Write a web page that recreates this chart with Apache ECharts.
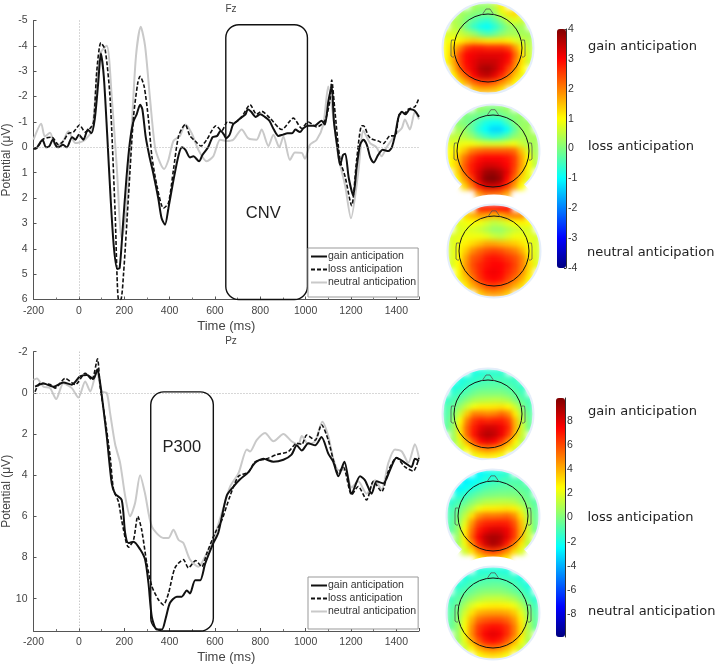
<!DOCTYPE html>
<html><head><meta charset="utf-8">
<script src="https://cdn.jsdelivr.net/npm/echarts@6/dist/echarts.min.js"></script>
<style>
html,body{margin:0;padding:0;background:#fff;overflow:hidden}
#heat,#main{position:absolute;left:0;top:0;width:718px;height:664px}
#heat{filter:blur(2.6px)}
</style></head><body>
<div id="heat"></div><div id="main"></div>
<script>
const conditionNames = ['gain anticipation','loss anticipation','neutral anticipation'];

const fzGain = [[-200,.05],[-190,.05],[-170,-.2],[-160,-.3],[-145,0],[-130,-.05],[-115,-.3],[-100,-.05],[-90,0],[-70,-.1],[-53,0],[-30,-.4],[-15,-.3],[0,-.5],[20,-.3],[40,-.7],[55,-.55],[70,-1.1],[85,-2.5],[97,-3.7],[110,-2.8],[125,-.5],[140,2],[155,4],[170,4.8],[180,4.75],[195,3],[210,1.2],[225,-.2],[240,-1],[255,-1.3],[270,-1.68],[280,-1.5],[295,-.4],[310,.3],[330,1.1],[350,2],[365,2.8],[380,3.05],[395,2.4],[415,1.4],[440,.3],[455,0],[470,.1],[490,.4],[505,.35],[530,.55],[545,.3],[570,0],[590,-.4],[610,-.45],[625,-.65],[640,-.5],[650,-.35],[665,-.5],[680,-.9],[700,-1.05],[720,-1.2],[735,-1.3],[745,-1.5],[760,-1.4],[780,-1.2],[800,-1.3],[820,-1.2],[840,-1.05],[860,-.7],[880,-.45],[900,-.5],[920,-.55],[940,-.55],[955,-.7],[975,-.6],[990,-.75],[1010,-.85],[1040,-.85],[1070,-1.05],[1085,-.9],[1100,-1.8],[1115,-2.4],[1125,-1],[1140,0],[1152,.7],[1165,.3],[1175,.25],[1190,1.2],[1210,1.9],[1225,.8],[1240,-.1],[1255,-.3],[1270,-.1],[1285,.4],[1300,.6],[1320,.3],[1340,.1],[1365,.15],[1380,0],[1395,-.5],[1410,-1.2],[1425,-1.4],[1440,-1.3],[1460,-1.5],[1480,-1.45],[1500,-1.2]];
const fzLoss = [[-200,.05],[-190,.05],[-156,-.33],[-119,-.4],[-90,-.1],[-68,-.25],[-46,-.55],[-24,-.6],[3,-.88],[28,-.6],[50,-.75],[65,-1],[79,-3],[97,-4.12],[116,-3.85],[138,-1.9],[160,2.6],[175,6],[185,6],[197,5],[219,1.9],[241,-1.2],[260,-2.55],[270,-2.8],[288,-2.4],[307,-1.1],[322,.35],[344,1.5],[373,2.4],[395,2.2],[417,.9],[440,-.45],[469,-.9],[490,-.45],[513,-.25],[539,-.05],[564,-.3],[605,-.85],[630,-.65],[655,-1],[681,-.95],[718,-1.2],[755,-1.68],[784,-1.3],[806,-1.42],[843,-1.15],[895,-.7],[946,-1.15],[983,-.75],[1012,-1],[1049,-.8],[1085,-1.05],[1108,-1.9],[1115,-2.65],[1130,-1.35],[1152,.5],[1174,1.15],[1203,2.3],[1225,.5],[1247,-.85],[1255,-.85],[1277,-.45],[1291,-.33],[1321,-.25],[1343,-.15],[1372,-.45],[1394,-.45],[1413,-1.3],[1438,-1.35],[1453,-1.5],[1482,-1.6],[1500,-1.95]];
const fzNeutral = [[-200,-.3],[-166,-.93],[-150,-.43],[-127,-.57],[-105,-.1],[-75,-.15],[-46,-.63],[-16,-.17],[20,-.25],[57,-.65],[72,-1.9],[94,-3.7],[123,-4],[145,-2],[167,.75],[189,3.6],[208,2.6],[233,-.8],[252,-3.6],[273,-4.75],[292,-4],[314,-1.9],[336,0],[358,.6],[376,.85],[395,.5],[417,-.25],[446,-.45],[469,-.9],[498,-.55],[527,.1],[564,.55],[593,.35],[623,-.3],[652,-.25],[681,-.3],[718,-.7],[748,-.35],[784,-.3],[806,-.7],[836,-.05],[858,-.5],[884,0],[902,-.43],[931,.5],[953,.2],[983,.22],[997,.45],[1019,-.1],[1049,-.3],[1078,-.9],[1100,-2.4],[1122,-1.2],[1144,.35],[1174,1.5],[1200,2.8],[1232,1],[1255,-.65],[1284,-.17],[1313,0],[1335,.35],[1357,0],[1401,-.55],[1424,-.75],[1438,-1.1],[1460,-.7],[1482,-1.4],[1500,-1.1]];

const pzGain = [[-193,-.3],[-156,-.45],[-112,-.3],[-68,-.5],[-31,-.4],[5,-.8],[35,-.87],[64,-.68],[82,-1.15],[94,-.47],[109,.83],[123,2.1],[145,4.4],[160,4.9],[189,5.2],[204,6.8],[219,7.3],[241,7.23],[270,7.6],[292,8.1],[307,9.25],[322,10.9],[344,11.5],[366,11.5],[383,10.95],[402,10.2],[432,9.9],[454,9.9],[476,9.6],[490,9.75],[513,9.1],[535,9.1],[557,8.3],[593,7.3],[615,6.8],[652,5],[682,4.55],[711,4.2],[748,3.85],[777,3.4],[814,3.2],[858,3.35],[902,3.25],[938,3],[961,2.55],[983,2.8],[1012,2.45],[1042,2.55],[1070,2.15],[1100,2.95],[1122,3.35],[1144,4.05],[1171,3.35],[1203,4.9],[1240,4.05],[1262,4.25],[1291,4.9],[1313,4.3],[1343,4.4],[1372,3.75],[1401,3.15],[1438,3.4],[1467,3.6],[1482,3.2],[1500,3.3]];
const pzLoss = [[-193,-.05],[-171,-.47],[-127,-.4],[-105,-.23],[-60,-.7],[-16,-.4],[28,-.95],[57,-.63],[82,-1.65],[94,-.3],[116,1.3],[138,3.1],[153,4.7],[175,5.3],[189,6.2],[219,7.5],[241,7.15],[260,6],[277,6.65],[300,8.3],[322,9.4],[351,10.05],[373,10.3],[395,9.75],[424,8.5],[461,8.1],[483,8.5],[515,8.15],[542,8.45],[564,7.8],[601,6.8],[630,6.2],[667,5],[704,4.05],[748,3.85],[777,3.35],[828,3.2],[873,3],[924,2.85],[961,2.45],[983,2.5],[1005,2.05],[1042,2.3],[1070,1.55],[1100,2.3],[1122,3.25],[1144,3.9],[1166,3.6],[1203,4.95],[1232,4.55],[1269,5.2],[1299,4.3],[1335,4.8],[1365,3.8],[1401,3.15],[1438,3.6],[1475,3.8],[1500,3.15]];
const pzNeutral = [[-200,-.63],[-185,-.7],[-156,-.3],[-127,-.23],[-100,.3],[-68,-.47],[-31,-.23],[-2,.23],[28,-.55],[50,-.07],[79,-1.04],[101,-.07],[123,0],[138,1],[160,2.5],[182,3.4],[204,5],[226,6],[248,5.35],[270,4],[292,4.9],[322,6.5],[373,7.05],[395,7.05],[417,6.65],[440,7.15],[461,7.3],[490,8.1],[527,8.45],[557,7.95],[593,7.15],[630,5.85],[667,4.55],[704,3.9],[741,2.75],[755,2.85],[784,2.3],[821,1.95],[858,2.35],[902,2],[938,2.35],[968,2.5],[983,2.1],[1012,2.5],[1042,2.35],[1074,1.4],[1100,2.1],[1122,3.2],[1144,3.75],[1174,3.75],[1203,4.6],[1232,4.3],[1269,4.9],[1306,4.25],[1335,4.7],[1365,3.4],[1394,2.75],[1424,2.85],[1453,3.4],[1482,2.5],[1500,3.15]];

const cnvWindow = [[648,1008,-4.83,6,'CNV',813,2.6]];
const p300Window = [[317,593,-.05,11.57,'P300',454,2.65]];

const topoFzGain = [
[.3,.3,.3,.3,.3,.2,.2,.5,1.1,1.5,1.5,1,.8],
[.3,.3,.3,.2,.1,0,0,.2,.8,1.2,1.3,1,.6],
[.4,.4,.3,0,-.3,-.5,-.6,-.3,.1,.6,.8,.6,.4],
[.5,.5,.3,-.2,-.6,-.9,-1,-.7,-.3,.1,.3,.3,.3],
[.7,.7,.6,.4,.2,-.2,-.4,-.2,.1,.3,.3,.3,.3],
[.9,1,1.1,1.3,1.4,1.3,1.2,1.2,1.2,1.1,.8,.6,.4],
[1,1.4,2,2.6,2.8,2.8,2.7,2.7,2.7,2.5,1.8,1,.5],
[1,1.6,2.5,3,3.1,3.2,3.2,3.2,3.2,3,2.2,1.2,.6],
[1,1.6,2.5,3,3.2,3.4,3.4,3.4,3.2,2.9,2,1.2,.6],
[.8,1.4,2.3,2.9,3.2,3.6,3.7,3.5,3.1,2.5,1.8,1,.6],
[.7,1,1.8,2.4,3,3.4,3.5,3.2,2.7,2.1,1.4,.9,.5],
[.6,.7,1.2,1.7,2.2,2.5,2.5,2.3,1.9,1.5,1,.7,.4],
[.5,.6,.8,1.1,1.4,1.6,1.6,1.5,1.2,1,.8,.6,.4]];
const topoFzLoss = [
[.1,.1,.1,.1,.2,.1,0,.1,.2,.2,.3,.3,.3],
[.1,.1,0,0,-.1,-.2,-.3,-.2,0,.1,.2,.2,.2],
[.2,.1,0,-.2,-.5,-.8,-.9,-.9,-.5,0,.2,.2,.2],
[.3,.3,.2,-.2,-.7,-1,-1.3,-1.3,-1,-.3,.2,.3,.3],
[.5,.5,.4,.2,-.2,-.5,-.7,-.6,-.3,.1,.3,.3,.3],
[.8,.8,.9,.9,.8,.7,.7,.7,.8,.9,.6,.4,.3],
[1,1.1,1.5,2,2.2,2.3,2.3,2.3,2.3,2.2,1.5,.7,.3],
[1,1.4,2.1,2.6,2.9,3,3,3,2.9,2.6,1.8,1,.4],
[1,1.4,2.3,2.8,3.1,3.3,3.3,3.2,3,2.6,1.8,1,.5],
[.8,1.3,2.2,2.8,3.3,3.7,3.8,3.6,3.2,2.5,1.6,.9,.5],
[.7,1,1.8,2.5,3.3,3.9,4,3.8,3,2.2,1.3,.8,.4],
[.6,.7,1.3,2,2.8,3.3,3.4,3.2,2.6,1.8,1,.7,.4],
[.5,.6,.9,1.3,1.8,2.2,2.2,2.1,1.7,1.2,.8,.6,.4]];
const topoFzNeutral = [
[1,1.5,2,2.4,2.7,2.8,2.8,2.9,2.9,2.7,2.4,2,1.5],
[.8,1,1.3,1.6,1.8,1.7,1.5,1.6,1.9,2,1.9,1.6,1.2],
[.7,.8,.9,1,.9,.7,.5,.6,.8,1,1.1,1,.8],
[.7,.7,.8,.7,.6,.4,.2,.2,.4,.6,.7,.7,.7],
[.7,.8,.9,.9,.9,.8,.6,.5,.7,.9,.9,.8,.7],
[.7,.9,1.1,1.3,1.5,1.7,1.7,1.6,1.5,1.4,1.2,.9,.7],
[.7,1,1.4,1.9,2.2,2.4,2.5,2.4,2.2,2,1.6,1,.7],
[.7,1,1.7,2.3,2.5,2.8,2.9,2.8,2.6,2.4,2,1.2,.7],
[.7,1,1.8,2.4,2.7,2.9,3,3,2.8,2.5,2,1.3,.8],
[.7,1,1.7,2.3,2.7,3,3.1,3,2.7,2.4,1.9,1.2,.8],
[.7,.9,1.4,2,2.6,2.9,3,2.9,2.5,2.1,1.6,1,.8],
[.7,.8,1.1,1.6,2,2.4,2.5,2.3,2,1.6,1.2,.9,.8],
[.7,.8,.9,1.2,1.4,1.7,1.8,1.7,1.4,1.2,1,.9,.8]];
const topoPzGain = [
[-2,-2,-2,-2,-2,-1.8,-1.6,-1.6,-1.6,-1.6,-1.6,-1.7,-1.8],
[-2,-2,-2,-1.8,-1.6,-1.4,-1.2,-1.2,-1.2,-1.3,-1.4,-1.6,-1.8],
[-2,-2,-1.8,-1.4,-1,-.8,-.7,-.7,-.7,-.9,-1.2,-1.5,-1.7],
[-1.8,-1.6,-1.2,-.8,-.3,0,0,0,0,-.3,-.7,-1.2,-1.5],
[-1.5,-1,-.5,.2,.8,1,1.1,1.2,1.1,.8,0,-.7,-1.2],
[-1,-.5,.5,1.5,2.3,2.8,2.8,2.9,3,2.6,1.5,0,-1],
[-1,0,1.5,3.5,5,5,4.8,5,5.5,4.8,2.8,.8,-.7],
[-.8,.3,2.5,5,6.5,7,6.8,7,7,6.3,3.8,1.3,-.5],
[-.7,.5,3,5.6,7,8,8.4,8.3,7.8,6.8,4,1.5,-.4],
[-.6,.5,2.8,5.5,7.2,8.5,9,8.7,7.8,6.3,3.6,1.4,-.3],
[-.4,.5,2,4,6,7.5,8,7.5,6.3,4.5,2.6,1,-.2],
[-.3,.4,1.3,2.5,3.8,4.8,5.2,4.8,4,2.8,1.7,.7,0],
[-.2,.2,.8,1.5,2.2,2.8,3,2.8,2.3,1.6,1,.5,0]];
const topoPzLoss = [
[-2.8,-2.8,-2.8,-2.8,-2.6,-2.3,-2,-1.8,-1.6,-1.5,-1.4,-1.3,-1.3],
[-2.8,-2.8,-2.8,-2.5,-2.2,-1.8,-1.5,-1.3,-1.1,-1,-1,-1,-1.2],
[-2.7,-2.7,-2.4,-2,-1.5,-1,-.8,-.7,-.6,-.6,-.7,-.9,-1.1],
[-2.3,-2,-1.6,-1,-.5,-.2,-.1,0,0,0,-.2,-.6,-1],
[-1.7,-1.2,-.7,0,.6,1,1.1,1.2,1.2,1,.4,-.3,-.8],
[-1.2,-.6,.3,1.2,2.2,2.8,2.8,2.9,3,2.8,1.8,.3,-.6],
[-1,-.2,1.2,3,4.6,5.2,5.2,5.3,5.5,4.8,3,1,-.5],
[-.9,.1,2,4.5,6.2,6.8,6.9,7,6.9,6,3.8,1.4,-.4],
[-.7,.3,2.7,5.2,7,7.8,8.2,8.2,7.8,6.5,4.1,1.6,-.3],
[-.6,.5,2.8,5.6,7.6,8.8,9.2,9,8,6.5,3.9,1.5,-.2],
[-.4,.5,2.2,4.5,6.8,8.4,9.2,8.7,7,5,2.9,1.1,-.1],
[-.3,.4,1.5,3,4.8,6,6.5,6,4.8,3.2,1.8,.7,0],
[-.2,.2,.9,1.8,2.8,3.6,4,3.6,2.8,1.8,1,.5,0]];
const topoPzNeutral = [
[-2,-2,-2,-2,-1.8,-1.8,-1.8,-1.8,-1.9,-2,-2.2,-2.2,-2.2],
[-2,-2,-1.9,-1.6,-1.4,-1.2,-1.2,-1.3,-1.4,-1.6,-2,-2.2,-2.3],
[-1.9,-1.8,-1.5,-1,-.7,-.6,-.5,-.5,-.7,-1,-1.5,-2,-2.3],
[-1.7,-1.3,-.8,-.4,0,.2,.2,.2,0,-.4,-.9,-1.6,-2.1],
[-1.3,-.8,-.1,.5,1,1.3,1.4,1.4,1.2,.8,0,-1,-1.7],
[-1,-.4,.8,1.8,2.4,2.7,2.8,2.8,2.7,2.2,1.2,-.2,-1.2],
[-.8,0,1.6,3,4,4.3,4.4,4.4,4.2,3.6,2.1,.5,-.9],
[-.7,.2,2.2,4,5.4,5.8,6,6,5.6,4.6,2.8,.9,-.7],
[-.6,.4,2.4,4.6,6.4,7,7.3,7.2,6.6,5.2,3.1,1,-.5],
[-.5,.5,2.4,4.8,6.6,7.6,8,7.7,6.7,5.2,3,1,-.4],
[-.4,.4,2,4,5.8,7,7.4,7,5.8,4.2,2.4,.8,-.2],
[-.3,.3,1.4,2.6,4,4.9,5.2,4.8,3.9,2.8,1.5,.6,0],
[-.2,.2,.8,1.5,2.4,3,3.2,3,2.3,1.6,.9,.4,0]];

const jet = ['#00007f','#0000ff','#007fff','#00ffff','#7fff7f','#ffff00','#ff7f00','#ff0000','#7f0000'];
const FONT = '"Liberation Sans", Arial, sans-serif';
const INK = '#444';

/* ---- topographic maps layer ---- */
const maps = [
 {values:topoFzGain,    cx:488,cy:48, R:45,head:34},
 {values:topoFzLoss,    cx:493,cy:151,R:46,head:36,openBottom:true},
 {values:topoFzNeutral, cx:494,cy:251,R:46,head:35},
 {values:topoPzGain,    cx:488,cy:414,R:45,head:34},
 {values:topoPzLoss,    cx:493,cy:516,R:46,head:35,openBottom:true},
 {values:topoPzNeutral, cx:493,cy:613,R:46,head:35}
];
const cats = [...Array(13).keys()];
const heat = echarts.init(document.getElementById('heat'),null,{renderer:'canvas'});
heat.setOption({
 animation:false,
 grid:maps.map(m=>({left:m.cx-m.R,top:m.cy-m.R,width:2*m.R,height:2*m.R,outerBoundsMode:'none'})),
 xAxis:maps.map((m,i)=>({type:'category',gridIndex:i,data:cats,show:false})),
 yAxis:maps.map((m,i)=>({type:'category',gridIndex:i,data:cats,show:false,inverse:true})),
 visualMap:[
  {show:false,min:-4,max:4,seriesIndex:[0,1,2],inRange:{color:jet}},
  {show:false,min:-10,max:10,seriesIndex:[3,4,5],inRange:{color:jet}}
 ],
 series:maps.map((m,i)=>({type:'heatmap',xAxisIndex:i,yAxisIndex:i,
   data:m.values.flatMap((row,r)=>row.map((v,c)=>[c,r,v])).filter(d=>Math.hypot(d[0]-6,d[1]-6)<=6.5),
   itemStyle:{borderWidth:0},emphasis:{disabled:true}}))
});

/* ---- main layer ---- */
const panels = [
 {top:20.5,h:279,ymin:-5,ymax:6,yint:1,gain:fzGain,loss:fzLoss,neutral:fzNeutral,win:cnvWindow,legendTop:248,legendPad:9},
 {top:351.7,h:279.3,ymin:-2,ymax:11.57,yint:2,gain:pzGain,loss:pzLoss,neutral:pzNeutral,win:p300Window,legendTop:577,legendPad:12}
];
const grids = panels.map(p=>({left:33.5,width:385.5,top:p.top,height:p.h,outerBoundsMode:'none'}));
const xAxes = panels.map((p,i)=>({type:'value',gridIndex:i,min:-200,max:1500,interval:200,
  axisLine:{onZero:false,lineStyle:{color:'#555',width:1}},
  axisTick:{inside:true,length:3,lineStyle:{color:'#555'}},
  minorTick:{show:true,splitNumber:2,length:2,lineStyle:{color:'#777'}},
  splitLine:{show:false},
  axisLabel:{color:INK,fontFamily:FONT,fontSize:10.5,margin:6,showMaxLabel:false,formatter:v=>String(v)},
  name:'Time (ms)',nameLocation:'middle',nameGap:20,
  nameTextStyle:{color:INK,fontFamily:FONT,fontSize:13}}));
const yAxes = panels.map((p,i)=>({type:'value',gridIndex:i,inverse:true,min:p.ymin,max:p.ymax,interval:p.yint,
  axisLine:{show:true,onZero:false,lineStyle:{color:'#555',width:1}},
  axisTick:{show:true,inside:true,length:3,lineStyle:{color:'#555'}},
  splitLine:{show:false},
  axisLabel:{color:INK,fontFamily:FONT,fontSize:10.5,margin:6,showMaxLabel:i===0},
  name:'Potential (μV)',nameLocation:'middle',nameGap:21,nameMoveOverlap:false,
  nameTextStyle:{color:INK,fontFamily:FONT,fontSize:12}}));

const series = [];
panels.forEach((p,i)=>{
 const base={type:'line',xAxisIndex:i,yAxisIndex:i,symbol:'none',smooth:0.25,animation:false,emphasis:{disabled:true}};
 series.push({...base,name:conditionNames[2],data:p.neutral,lineStyle:{color:'#c9c9c9',width:2},itemStyle:{color:'#c9c9c9'},z:2,
   markLine:{silent:true,symbol:'none',animation:false,label:{show:false},
     lineStyle:{color:'#b0b0b0',type:[1,2],width:1},data:[{xAxis:0},{yAxis:0}]}});
 series.push({...base,name:conditionNames[1],data:p.loss,lineStyle:{color:'#111',width:1.6,type:[4,2]},itemStyle:{color:'#111'},z:3});
 series.push({...base,name:conditionNames[0],data:p.gain,lineStyle:{color:'#111',width:2},itemStyle:{color:'#111'},z:4});
 series.push({type:'custom',xAxisIndex:i,yAxisIndex:i,clip:false,silent:true,z:5,animation:false,data:p.win,
   encode:{x:[0,1,5],y:[2,3,6]},
   renderItem:(params,api)=>{
     const a=api.coord([api.value(0),api.value(2)]),b=api.coord([api.value(1),api.value(3)]);
     const t=api.coord([api.value(5),api.value(6)]);
     return {type:'group',children:[
       {type:'rect',shape:{x:a[0],y:a[1],width:b[0]-a[0],height:b[1]-a[1],r:13},
        style:{fill:'none',stroke:'#111',lineWidth:1.4}},
       {type:'text',style:{x:t[0],y:t[1],text:api.value(4),fill:'#222',align:'center',verticalAlign:'middle',
        font:'16.5px '+FONT}}
     ]};
   }});
});

/* colour-bar axes */
const bars=[{left:557,top:29,height:239,min:-4,max:4,ticks:[-4,-3,-2,-1,0,1,2,3,4]},
            {left:556,top:398,height:239,min:-9.87,max:9.87,ticks:[-8,-6,-4,-2,0,2,4,6,8]}];
bars.forEach((b,k)=>{
 grids.push({left:b.left,top:b.top,width:9,height:b.height,outerBoundsMode:'none'});
 xAxes.push({type:'value',gridIndex:2+k,show:false,min:0,max:1});
 yAxes.push({type:'value',gridIndex:2+k,position:'right',min:b.min,max:b.max,
   axisLine:{show:true,onZero:false,lineStyle:{color:'#333'}},
   axisTick:{show:true,inside:true,length:2,customValues:b.ticks,lineStyle:{color:'#333'}},
   splitLine:{show:false},
   axisLabel:{color:'#333',fontFamily:FONT,fontSize:10.5,margin:2,customValues:b.ticks,align:'left'}});
});

/* head outlines and mask rings */
const graphics=[];
maps.forEach((m,i)=>{
 const z=10+3*i, gap=0.75;
 const ring=(r,style,zz)=>m.openBottom
   ? {type:'arc',shape:{cx:m.cx,cy:m.cy,r,startAngle:Math.PI/2+gap,endAngle:Math.PI*2.5-gap,clockwise:true},style,z:zz}
   : {type:'circle',shape:{cx:m.cx,cy:m.cy,r},style,z:zz};
 graphics.push(ring(m.R+5.5,{fill:'none',stroke:'#fff',lineWidth:10},z));
 graphics.push(ring(m.R+.5,{fill:'none',stroke:'#e4eefa',lineWidth:2},z+1));
 graphics.push({type:'circle',shape:{cx:m.cx,cy:m.cy,r:m.head},style:{fill:'none',stroke:'#111',lineWidth:1},z:z+2});
 const s=m.head/34;
 graphics.push({type:'polyline',shape:{points:[[m.cx-6*s,m.cy-33*s],[m.cx-2*s,m.cy-39*s],[m.cx+2*s,m.cy-39*s],[m.cx+6*s,m.cy-33*s]]},
   style:{fill:'none',stroke:'#555',lineWidth:.8},z:z+2});
 [-1,1].forEach(d=>graphics.push({type:'polyline',
   shape:{points:[[m.cx+d*m.head,m.cy-8],[m.cx+d*(m.head+2.5),m.cy-8],[m.cx+d*(m.head+3),m.cy-4],[m.cx+d*(m.head+3),m.cy+8],[m.cx+d*(m.head+1.5),m.cy+9],[m.cx+d*m.head,m.cy+9]]},
   style:{fill:'none',stroke:'#555',lineWidth:.8},z:z+2}));
});
const sideLabels=[[588,47,0],[588,147,1],[587,253,2],[588,412,0],[587.5,518,1],[588,612,2]];
sideLabels.forEach(l=>graphics.push({type:'text',x:l[0],y:l[1],z:40,
  style:{text:conditionNames[l[2]],fill:'#222',font:'13px "DejaVu Sans", sans-serif',verticalAlign:'middle'}}));

const legends=panels.map(p=>({data:conditionNames,orient:'vertical',left:308,top:p.legendTop,
  padding:[3,2,p.legendPad,2],itemGap:2,itemWidth:16,itemHeight:12,selectedMode:false,
  itemStyle:{color:'transparent',borderWidth:0},
  backgroundColor:'#fff',borderColor:'#999',borderWidth:1,z:20,
  textStyle:{color:'#333',fontFamily:FONT,fontSize:10.5,padding:[0,0,0,-4]}}));

const chart=echarts.init(document.getElementById('main'),null,{renderer:'canvas'});
chart.setOption({
 animation:false,backgroundColor:'transparent',
 title:[{text:'Fz',left:226,top:-1,textAlign:'center',textStyle:{color:INK,fontFamily:FONT,fontSize:10,fontWeight:'normal'}},
        {text:'Pz',left:226,top:331,textAlign:'center',textStyle:{color:INK,fontFamily:FONT,fontSize:10,fontWeight:'normal'}}],
 grid:grids,xAxis:xAxes,yAxis:yAxes,series,legend:legends,graphic:{elements:graphics},
 visualMap:[
  {type:'continuous',show:true,seriesIndex:[],min:-4,max:4,left:557,top:29,itemWidth:9,itemHeight:239,padding:0,calculable:false,realtime:false,inRange:{color:jet},z:1},
  {type:'continuous',show:true,seriesIndex:[],min:-10,max:10,left:556,top:398,itemWidth:9,itemHeight:239,padding:0,calculable:false,realtime:false,inRange:{color:jet},z:1}
 ]
});
</script>
</body></html>
